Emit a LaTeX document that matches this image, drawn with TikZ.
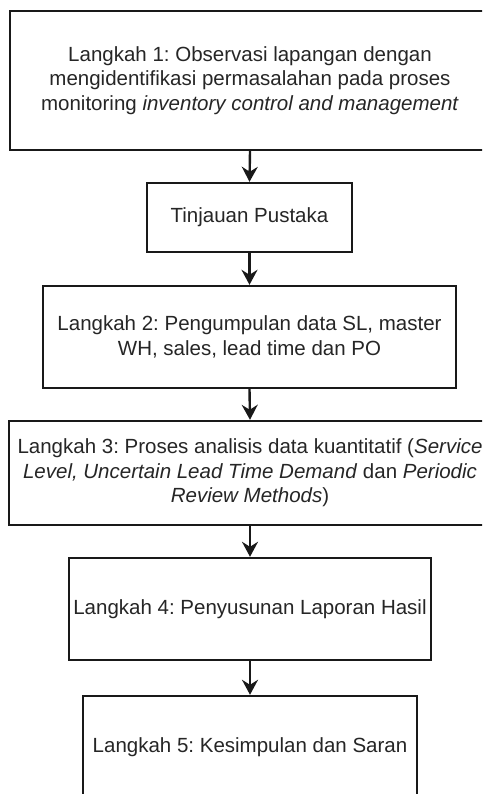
\documentclass[tikz,border=0pt]{standalone}
\usepackage{fontspec}
\setmainfont{Liberation Sans}
\frenchspacing
\usetikzlibrary{arrows.meta}
\begin{document}
\begin{tikzpicture}[x=1pt,y=1pt,
  box/.style={draw=black!90, line width=2.4pt, fill=white, rectangle, inner sep=0pt,
    align=center, text=black!85, font=\fontsize{20.5pt}{24.6pt}\selectfont\frenchspacing},
  flow/.style={draw=black!90, line width=2.4pt,
    -{Stealth[length=15pt,width=16pt,inset=5pt]}}]
\useasboundingbox (0,0) rectangle (482,-794);
\clip (0,0) rectangle (482,-794);
\node[box, minimum width=480pt, minimum height=139pt] (b1) at (250,-80.5)
  {Langkah 1: Observasi lapangan dengan\\mengidentifikasi permasalahan pada proses\\monitoring \textit{inventory control and management}};
\node[box, minimum width=205pt, minimum height=69pt] (b2) at (249.5,-217.5)
  {Tinjauan Pustaka};
\node[box, minimum width=413pt, minimum height=102pt] (b3) at (249.5,-337)
  {Langkah 2: Pengumpulan data SL, master\\WH, sales, lead time dan PO};
\node[box, minimum width=482pt, minimum height=104pt] (b4) at (250,-473)
  {Langkah 3: Proses analisis data kuantitatif (\textit{Service}\\\textit{Level, Uncertain Lead Time Demand} dan \textit{Periodic}\\\textit{Review Methods})};
\node[box, minimum width=362pt, minimum height=102pt] (b5) at (250,-609)
  {Langkah 4: Penyusunan Laporan Hasil};
\node[box, minimum width=334pt, minimum height=102pt] (b6) at (250,-747)
  {Langkah 5: Kesimpulan dan Saran};
\draw[flow] (b1.south) -- (b2.north);
\draw[flow] (b2.south) -- (b3.north);
\draw[flow] (b3.south) -- (b4.north);
\draw[flow] (b4.south) -- (b5.north);
\draw[flow] (b5.south) -- (b6.north);
\end{tikzpicture}
\end{document}
